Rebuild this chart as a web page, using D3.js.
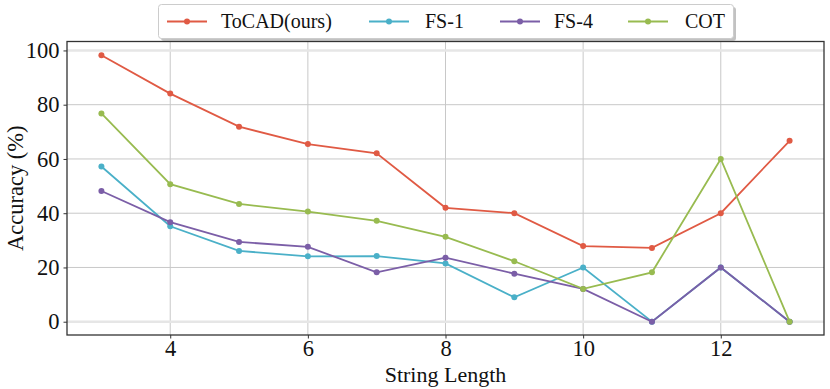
<!DOCTYPE html>
<html><head><meta charset="utf-8">
<script src="https://cdn.jsdelivr.net/npm/d3@7"></script>
<style>body{margin:0;background:#fff;}</style>
</head><body><svg id="c" width="830" height="389"></svg>
<script>
const lengths = [3,4,5,6,7,8,9,10,11,12,13];
const seriesNames = ["ToCAD(ours)","FS-1","FS-4","COT"];
const tocad = [98.2,84.1,71.9,65.5,62.1,42.0,40.0,27.9,27.2,40.0,66.7];
const fs1   = [57.2,35.2,26.1,24.1,24.2,21.5,9.0,20.0,0,20.0,0];
const fs4   = [48.2,36.7,29.4,27.6,18.2,23.6,17.7,12.1,0,20.0,0];
const cot   = [76.8,50.7,43.4,40.6,37.2,31.3,22.3,12.1,18.2,60.0,0];
const colors = ["#E05A44","#4AB0C8","#7B5EA7","#98BB50"];
const xTicks = [4,6,8,10,12];
const yTicks = [0,20,40,60,80,100];
const FONT = "Liberation Serif";

const svg = d3.select("#c");
const L=67, R=824, T=41.5, B=335;
const x = d3.scaleLinear().domain([2.5,13.5]).range([L,R]);
const y = d3.scaleLinear().domain([-4.9,103.3]).range([B,T]);

const g = svg.append("g");
g.selectAll(".vx").data(xTicks).enter().append("line")
 .attr("x1",d=>x(d)).attr("x2",d=>x(d)).attr("y1",T).attr("y2",B)
 .attr("stroke","#c8c8c8").attr("stroke-width",1);
g.selectAll(".hy").data(yTicks).enter().append("line")
 .attr("x1",L).attr("x2",R).attr("y1",d=>y(d)).attr("y2",d=>y(d))
 .attr("stroke",d=>(d===0||d===100)?"#e6e6e6":"#c8c8c8").attr("stroke-width",d=>(d===0||d===100)?2.5:1);

const data = [tocad,fs1,fs4,cot];
const line = d3.line().x((d,i)=>x(lengths[i])).y(d=>y(d));
data.forEach((s,k)=>{
  svg.append("path").attr("d",line(s)).attr("fill","none").attr("stroke",colors[k]).attr("stroke-width",1.8);
  svg.selectAll(null).data(s).enter().append("circle")
   .attr("cx",(d,i)=>x(lengths[i])).attr("cy",d=>y(d)).attr("r",3).attr("fill",colors[k]);
});

const xa = svg.append("g").attr("transform",`translate(0,${B})`)
 .call(d3.axisBottom(x).tickValues(xTicks).tickSize(3.5).tickPadding(1.5).tickFormat(d3.format("d")));
const ya = svg.append("g").attr("transform",`translate(${L},0)`)
 .call(d3.axisLeft(y).tickValues(yTicks).tickSize(3.5).tickPadding(4).tickFormat(d3.format("d")));
[xa,ya].forEach(a=>{a.attr("font-family",FONT).attr("font-size",22.5);a.select(".domain").remove();a.selectAll("line").attr("stroke","#333");
 a.selectAll("text").attr("fill","#111");});
svg.append("rect").attr("x",L).attr("y",T).attr("width",R-L).attr("height",B-T)
 .attr("fill","none").attr("stroke","#333").attr("stroke-width",1.3);

svg.append("text").attr("x",(L+R)/2).attr("y",381.5).attr("text-anchor","middle").attr("font-family",FONT).attr("font-size",22).attr("fill","#111").text("String Length");
svg.append("text").attr("transform",`translate(23,${(T+B)/2}) rotate(-90)`).attr("text-anchor","middle").attr("font-family",FONT).attr("font-size",22.5).attr("fill","#111").text("Accuracy (%)");

const lg = svg.append("g");
lg.append("rect").attr("x",161).attr("y",7).attr("width",575).attr("height",34).attr("rx",3).attr("fill","#999").attr("opacity",0.6);
lg.append("rect").attr("x",158.5).attr("y",4.5).attr("width",575).attr("height",34).attr("rx",3).attr("fill","#fff").attr("stroke","#ccc");
const handleX = [167,369,500,628];
const textX = [221,425,554,685];
seriesNames.forEach((n,k)=>{
  lg.append("line").attr("x1",handleX[k]).attr("x2",handleX[k]+40).attr("y1",21.5).attr("y2",21.5).attr("stroke",colors[k]).attr("stroke-width",1.8);
  lg.append("circle").attr("cx",handleX[k]+20).attr("cy",21.5).attr("r",3).attr("fill",colors[k]);
  lg.append("text").attr("x",textX[k]).attr("y",28).attr("font-family",FONT).attr("font-size",20).attr("fill","#111").text(n);
});
</script></body></html>
